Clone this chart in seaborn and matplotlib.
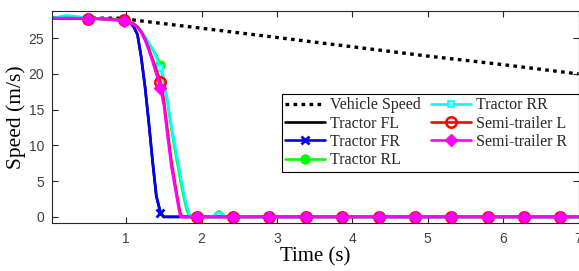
import matplotlib
matplotlib.use("Agg")
import matplotlib.pyplot as plt
import seaborn as sns

# ---------------- data ----------------
t = [0.02, 0.2, 0.3, 0.49, 0.7, 0.975, 1.05, 1.10, 1.15, 1.20,
     1.25, 1.30, 1.35, 1.40, 1.455, 1.50, 1.55, 1.60, 1.65, 1.70,
     1.72, 1.75, 1.80, 1.84, 1.94, 2.15, 2.19, 2.23, 2.27, 2.31,
     2.42, 2.90, 3.385, 3.865, 4.35, 4.83, 5.31, 5.795, 6.275, 6.76, 7.0]

vehicle_t = [0.02, 0.5, 0.9, 2.0, 3.0, 4.0, 5.0, 6.0, 7.0]
vehicle_speed = [27.8, 27.8, 27.8, 26.4, 25.1, 23.8, 22.5, 21.3, 20.0]

tractor_fl = [27.8, 27.8, 27.8, 27.75, 27.7, 27.6, 27.2, 26.6, 25.5, 22.3,
              18.2, 13.2, 7.8, 2.9, 0.6, 0.0, 0.0, 0.0, 0.0, 0.0,
              0.0, 0.0, 0.0, 0.0, 0.0, 0.0, 0.0, 0.0, 0.0, 0.0,
              0.0, 0.0, 0.0, 0.0, 0.0, 0.0, 0.0, 0.0, 0.0, 0.0, 0.0]
tractor_fr = [27.8, 27.8, 27.8, 27.75, 27.7, 27.6, 27.2, 26.6, 25.5, 22.3,
              18.2, 13.2, 7.8, 2.9, 0.6, 0.0, 0.0, 0.0, 0.0, 0.0,
              0.0, 0.0, 0.0, 0.0, 0.0, 0.0, 0.0, 0.0, 0.0, 0.0,
              0.0, 0.0, 0.0, 0.0, 0.0, 0.0, 0.0, 0.0, 0.0, 0.0, 0.0]
tractor_rl = [27.8, 27.9, 27.9, 27.8, 27.7, 27.6, 27.3, 27.0, 26.6, 26.0,
              25.2, 24.3, 23.5, 22.6, 21.2, 19.0, 15.9, 12.3, 9.2, 6.3,
              5.1, 3.4, 1.1, 0.0, 0.0, 0.0, 0.5, 0.8, 0.5, 0.0,
              0.0, 0.0, 0.0, 0.0, 0.0, 0.0, 0.0, 0.0, 0.0, 0.0, 0.0]
tractor_rr = [27.8, 28.2, 28.1, 27.8, 27.7, 27.6, 27.3, 27.0, 26.6, 26.0,
              25.2, 24.3, 23.4, 22.3, 20.8, 19.0, 16.2, 12.8, 9.8, 7.0,
              5.8, 4.0, 1.6, 0.3, 0.0, 0.0, 0.4, 0.7, 0.4, 0.0,
              0.0, 0.0, 0.0, 0.0, 0.0, 0.0, 0.0, 0.0, 0.0, 0.0, 0.0]
semi_l = [27.8, 27.8, 27.8, 27.75, 27.7, 27.5, 27.2, 27.0, 26.6, 25.9,
          24.9, 23.6, 22.1, 20.6, 18.9, 16.4, 12.0, 7.8, 4.6, 1.5,
          0.5, 0.0, 0.0, 0.0, 0.0, 0.0, 0.0, 0.0, 0.0, 0.0,
          0.0, 0.0, 0.0, 0.0, 0.0, 0.0, 0.0, 0.0, 0.0, 0.0, 0.0]
semi_r = [27.8, 27.8, 27.8, 27.75, 27.7, 27.4, 27.1, 26.9, 26.5, 25.8,
          24.7, 23.3, 21.7, 20.0, 18.0, 15.6, 11.2, 7.0, 4.0, 1.0,
          0.0, 0.0, 0.0, 0.0, 0.0, 0.0, 0.0, 0.0, 0.0, 0.0,
          0.0, 0.0, 0.0, 0.0, 0.0, 0.0, 0.0, 0.0, 0.0, 0.0, 0.0]

labels = ["Vehicle Speed", "Tractor FL", "Tractor FR", "Tractor RL",
          "Tractor RR", "Semi-trailer L", "Semi-trailer R"]
x_ticks = [1, 2, 3, 4, 5, 6, 7]
y_ticks = [0, 5, 10, 15, 20, 25]

mark_idx = [3, 5, 14, 24, 30, 31, 32, 33, 34, 35, 36, 37, 38, 39]

# ---------------- style ----------------
sns.set_theme(style="white")
plt.rcParams["font.family"] = ["Liberation Sans", "DejaVu Sans"]

fig = plt.figure(figsize=(5.79, 2.71), dpi=100)
L, R, B, T = 52.3 / 579, 578.5 / 579, 1 - 223.3 / 271, 1 - 10.7 / 271
ax = fig.add_axes([L, B, R - L, T - B])

lw = 1.9
sns.lineplot(x=vehicle_t, y=vehicle_speed, ax=ax, color="black", lw=2.4,
             label=labels[0])
sns.lineplot(x=t, y=tractor_fl, ax=ax, color="black", lw=lw, label=labels[1])
sns.lineplot(x=t, y=tractor_fr, ax=ax, color="#0000ff", lw=lw, marker="x",
             markersize=5.5, markeredgewidth=2.0, markeredgecolor="#0000ff",
             markevery=mark_idx, label=labels[2])
sns.lineplot(x=t, y=tractor_rl, ax=ax, color="#00ff00", lw=lw, marker="o",
             markersize=6.5, markeredgewidth=1.0, markeredgecolor="#00ff00",
             markevery=mark_idx, label=labels[3])
sns.lineplot(x=t, y=tractor_rr, ax=ax, color="#00ffff", lw=lw, marker="s",
             markersize=5, markeredgewidth=1.2, markeredgecolor="#00ffff",
             markerfacecolor="#7fffff", markevery=mark_idx, label=labels[4])
sns.lineplot(x=t, y=semi_l, ax=ax, color="#ff0000", lw=lw, marker="o",
             markersize=7.5, markeredgewidth=1.8, markeredgecolor="#ff0000",
             markerfacecolor="none", markevery=mark_idx, label=labels[5])
sns.lineplot(x=t, y=semi_r, ax=ax, color="#ff00ff", lw=lw, marker="D",
             markersize=6.2, markeredgewidth=1.0, markeredgecolor="#ff00ff",
             markerfacecolor="#ff00ff", markevery=mark_idx, label=labels[6])

lines = ax.get_lines()
lines[0].set_linestyle((0, (1.1, 1.3)))
lines[0].set_dash_capstyle("butt")
for ln in lines[1:]:
    ln.set_linestyle("-")

ax.set_xlim(0.02, 7.0)
ax.set_ylim(-0.9, 28.85)
ax.set_xticks(x_ticks)
ax.set_yticks(y_ticks)
ax.tick_params(axis="both", which="both", direction="in", length=4, width=0.8,
               colors="#262626", labelsize=10, top=True, right=True,
               bottom=True, left=True, labelcolor="#404040", pad=6)
for s in ax.spines.values():
    s.set_visible(True)
    s.set_color("#262626")
    s.set_linewidth(0.8)

serif = ["Liberation Serif", "DejaVu Serif"]
ax.set_xlabel("Time (s)", family=serif, fontsize=15, color="black", labelpad=1)
ax.set_ylabel("Speed (m/s)", family=serif, fontsize=15.5, color="black", labelpad=2)

leg_labels = labels[:4] + [lab + "  " for lab in labels[4:]]
leg = ax.legend(lines, leg_labels, ncol=2, loc="upper right",
                bbox_to_anchor=(1.0, 0.608),
                borderaxespad=0, frameon=True, fancybox=False, framealpha=1,
                edgecolor="black", prop={"family": serif, "size": 11.5},
                handlelength=2.5, handletextpad=0.3, columnspacing=0.7,
                labelspacing=0.15, borderpad=0.2)
leg.get_frame().set_linewidth(0.8)

fig.savefig("out.png", dpi=100)
